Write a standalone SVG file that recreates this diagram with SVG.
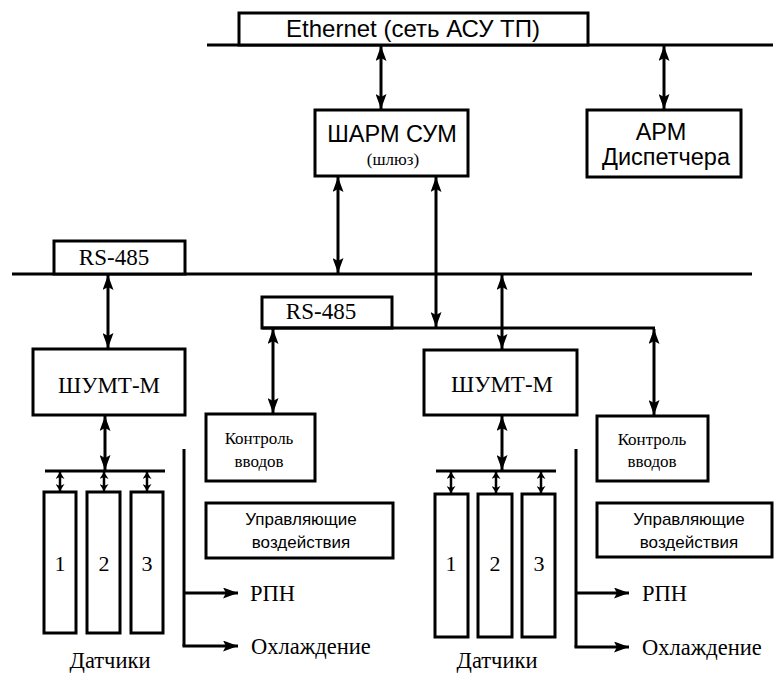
<svg xmlns="http://www.w3.org/2000/svg" width="774" height="673" viewBox="0 0 774 673">
<style>
.box{fill:#fff;stroke:#000;stroke-width:3}
.ln{fill:none;stroke:#000;stroke-width:3}
.ar{fill:none;stroke:#000;stroke-width:3;marker-start:url(#ah);marker-end:url(#ah)}
.sa{fill:none;stroke:#000;stroke-width:2.5;marker-start:url(#sh);marker-end:url(#sh)}
.oa{fill:none;stroke:#000;stroke-width:3;marker-end:url(#ah)}
.sans{font-family:"Liberation Sans",Arial,sans-serif;fill:#000}
.serif{font-family:"Liberation Serif","Times New Roman",serif;fill:#000}
.m{text-anchor:middle}
</style>
<defs>
<marker id="ah" markerUnits="userSpaceOnUse" markerWidth="15" markerHeight="11" refX="15" refY="5.5" orient="auto-start-reverse">
<path d="M0,0 L15,5.5 L0,11 L3,5.5 z" fill="#000"/>
</marker>
<marker id="sh" markerUnits="userSpaceOnUse" markerWidth="7" markerHeight="9" refX="7" refY="4.5" orient="auto-start-reverse">
<path d="M0,0 L7,4.5 L0,9 L2,4.5 z" fill="#000"/>
</marker>
</defs>

<g id="ethernet">
<line class="ln" x1="207" y1="45" x2="773" y2="45"/>
<rect class="box" x="239" y="13" width="349" height="32"/>
<text class="sans m" x="413" y="37" font-size="24">Ethernet (сеть АСУ ТП)</text>
</g>

<g id="rs485-main">
<line class="ln" x1="12" y1="274" x2="752" y2="274"/>
<rect class="box" x="54" y="241" width="131" height="33"/>
<text class="serif m" x="114" y="265" font-size="23">RS-485</text>
</g>

<g id="rs485-sub">
<rect class="box" x="262" y="297" width="130" height="31"/>
<line class="ln" x1="262" y1="328" x2="655" y2="328"/>
<text class="serif m" x="321" y="319" font-size="23">RS-485</text>
</g>

<g id="sharm">
<rect class="box" x="315" y="110" width="153" height="66"/>
<text class="sans m" x="392" y="142" font-size="23.5">ШАРМ СУМ</text>
<text class="serif m" x="393" y="165" font-size="17">(шлюз)</text>
</g>

<g id="arm">
<rect class="box" x="587" y="110" width="154" height="67"/>
<text class="sans m" x="661" y="140" font-size="23.5">АРМ</text>
<text class="sans m" x="666" y="165" font-size="23.5">Диспетчера</text>
</g>

<g id="shumt1">
<rect class="box" x="33" y="349" width="152" height="66"/>
<text class="serif m" x="109" y="393" font-size="23">ШУМТ-М</text>
</g>

<g id="shumt2">
<rect class="box" x="424" y="350" width="153" height="65"/>
<text class="serif m" x="502" y="392" font-size="23">ШУМТ-М</text>
</g>

<g id="kontrol1">
<rect class="box" x="206" y="414" width="109" height="67"/>
<text class="serif m" x="259" y="444" font-size="17">Контроль</text>
<text class="serif m" x="259" y="467" font-size="17">вводов</text>
</g>

<g id="kontrol2">
<rect class="box" x="597" y="416" width="111" height="65"/>
<text class="serif m" x="652" y="445" font-size="17">Контроль</text>
<text class="serif m" x="652" y="467" font-size="17">вводов</text>
</g>

<g id="upr1">
<rect class="box" x="206" y="503" width="187" height="55"/>
<text class="sans m" x="301" y="525" font-size="17">Управляющие</text>
<text class="sans m" x="301" y="548" font-size="17">воздействия</text>
</g>

<g id="upr2">
<rect class="box" x="597" y="503" width="175" height="54"/>
<text class="sans m" x="689" y="525" font-size="17">Управляющие</text>
<text class="sans m" x="689" y="548" font-size="17">воздействия</text>
</g>

<g id="sensors1">
<line class="ln" x1="45" y1="471" x2="165" y2="471"/>
<rect class="box" x="44" y="492" width="32" height="141"/>
<rect class="box" x="87" y="492" width="33" height="141"/>
<rect class="box" x="131" y="492" width="32" height="141"/>
<text class="serif m" x="60" y="571" font-size="22">1</text>
<text class="serif m" x="104" y="571" font-size="22">2</text>
<text class="serif m" x="147" y="571" font-size="22">3</text>
<text class="serif m" x="110" y="668" font-size="22.5">Датчики</text>
</g>

<g id="sensors2">
<line class="ln" x1="436" y1="471" x2="556" y2="471"/>
<rect class="box" x="435" y="494" width="33" height="143"/>
<rect class="box" x="478" y="494" width="34" height="143"/>
<rect class="box" x="522" y="494" width="33" height="143"/>
<text class="serif m" x="451" y="571" font-size="22">1</text>
<text class="serif m" x="495" y="571" font-size="22">2</text>
<text class="serif m" x="539" y="571" font-size="22">3</text>
<text class="serif m" x="497" y="668" font-size="22.5">Датчики</text>
</g>

<g id="outputs1">
<text class="serif" x="250" y="601" font-size="22.5">РПН</text>
<text class="serif" x="251" y="654" font-size="22.5">Охлаждение</text>
</g>

<g id="outputs2">
<text class="serif" x="642" y="601" font-size="22.5">РПН</text>
<text class="serif" x="642" y="655" font-size="22.5">Охлаждение</text>
</g>

<g id="connectors">
<line class="ar" x1="381" y1="46" x2="381" y2="109"/>
<line class="ar" x1="664" y1="46" x2="664" y2="109"/>
<line class="ar" x1="338" y1="177" x2="338" y2="273"/>
<line class="ar" x1="436" y1="177" x2="436" y2="327"/>
<line class="ar" x1="108" y1="275" x2="108" y2="348"/>
<line class="ar" x1="502" y1="275" x2="502" y2="349"/>
<line class="ar" x1="273" y1="329" x2="273" y2="413"/>
<line class="ar" x1="654" y1="329" x2="654" y2="415"/>
<line class="ar" x1="105" y1="416" x2="105" y2="470"/>
<line class="ar" x1="502" y1="416" x2="502" y2="470"/>
<line class="sa" x1="60" y1="472" x2="60" y2="491"/>
<line class="sa" x1="104" y1="472" x2="104" y2="491"/>
<line class="sa" x1="147" y1="472" x2="147" y2="491"/>
<line class="sa" x1="451" y1="472" x2="451" y2="493"/>
<line class="sa" x1="496" y1="472" x2="496" y2="493"/>
<line class="sa" x1="541" y1="472" x2="541" y2="493"/>
<line class="ln" x1="184" y1="449" x2="184" y2="646"/>
<line class="oa" x1="184" y1="593" x2="238" y2="593"/>
<line class="oa" x1="182.5" y1="646" x2="238" y2="646"/>
<line class="ln" x1="576" y1="449" x2="576" y2="647"/>
<line class="oa" x1="576" y1="593" x2="629" y2="593"/>
<line class="oa" x1="574.5" y1="647" x2="629" y2="647"/>
</g>
</svg>
